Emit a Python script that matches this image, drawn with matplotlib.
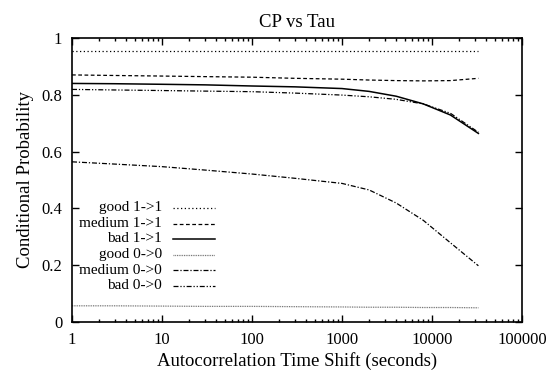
import matplotlib
matplotlib.use("Agg")
import matplotlib.pyplot as plt
from matplotlib.lines import Line2D
from matplotlib.ticker import LogLocator, FixedLocator, NullFormatter

tau = [1, 3, 10, 30, 100, 300, 1000, 2000, 4000, 8000, 16000, 32768]
good_11 = [0.955, 0.955, 0.955, 0.955, 0.955, 0.955, 0.955, 0.955, 0.955, 0.955, 0.955, 0.955]
medium_11 = [0.870, 0.868, 0.866, 0.864, 0.862, 0.858, 0.855, 0.852, 0.850, 0.849, 0.850, 0.858]
bad_11 = [0.840, 0.839, 0.837, 0.835, 0.831, 0.828, 0.822, 0.812, 0.795, 0.768, 0.729, 0.664]
good_00 = [0.057, 0.057, 0.056, 0.055, 0.055, 0.054, 0.053, 0.052, 0.052, 0.051, 0.051, 0.050]
medium_00 = [0.564, 0.556, 0.547, 0.535, 0.521, 0.506, 0.488, 0.465, 0.419, 0.358, 0.279, 0.198]
bad_00 = [0.819, 0.817, 0.815, 0.813, 0.811, 0.806, 0.799, 0.793, 0.784, 0.768, 0.735, 0.668]

labels = ["good 1->1", "medium 1->1", "bad 1->1", "good 0->0", "medium 0->0", "bad 0->0"]
series = [good_11, medium_11, bad_11, good_00, medium_00, bad_00]
styles = [
    dict(color="black", lw=0.9, dashes=(1, 2)),
    dict(color="black", lw=0.9, dashes=(3, 2)),
    dict(color="black", lw=1.1, linestyle="-"),
    dict(color="#666666", lw=0.9, dashes=(0.7, 0.7)),
    dict(color="black", lw=0.9, dashes=(4, 1.5, 1, 1.5)),
    dict(color="black", lw=0.9, dashes=(4, 1.5, 1, 1.5, 1, 1.5)),
]

plt.rcParams["font.family"] = ["Liberation Serif", "DejaVu Serif"]
fig = plt.figure(figsize=(5.49, 3.73), dpi=100)
ax = fig.add_axes([72 / 549, 1 - 322 / 373, (522 - 72) / 549, (322 - 38) / 373])

for s, st in zip(series, styles):
    ax.plot(tau, s, **st)

ax.set_xscale("log")
ax.set_xlim(1, 100000)
ax.set_ylim(0, 1)
ax.xaxis.set_major_locator(FixedLocator([1, 10, 100, 1000, 10000, 100000]))
ax.set_xticklabels(["1", "10", "100", "1000", "10000", "100000"])
ax.xaxis.set_minor_locator(LogLocator(base=10, subs=range(2, 10)))
ax.xaxis.set_minor_formatter(NullFormatter())
ax.set_yticks([0, 0.2, 0.4, 0.6, 0.8, 1.0])
ax.set_yticklabels(["0", "0.2", "0.4", "0.6", "0.8", "1"])
ax.tick_params(which="both", direction="in", top=True, right=True, labelsize=12, width=1)
ax.tick_params(which="major", length=5, pad=7)
ax.tick_params(which="minor", length=2.5)
for sp in ax.spines.values():
    sp.set_linewidth(1.2)

ax.set_xlabel("Autocorrelation Time Shift (seconds)", fontsize=13.5, labelpad=3)
ax.set_ylabel("Conditional Probability", fontsize=13.5, labelpad=5)
ax.set_title("CP vs Tau", fontsize=13.5, pad=8)

# gnuplot-style legend: right-aligned labels, sample line to the right
row_y = [208, 223.5, 239, 254.5, 270, 285.5]
for lab, st, yp in zip(labels, styles, row_y):
    ya = (322 - yp) / (322 - 38)
    xt = (162 - 72) / 450
    ax.text(xt, ya, lab, transform=ax.transAxes, ha="right", va="center", fontsize=11)
    ln = Line2D([(173 - 72) / 450, (215 - 72) / 450], [ya, ya], transform=ax.transAxes, **st)
    ax.add_line(ln)

fig.savefig("out.png", dpi=100)
